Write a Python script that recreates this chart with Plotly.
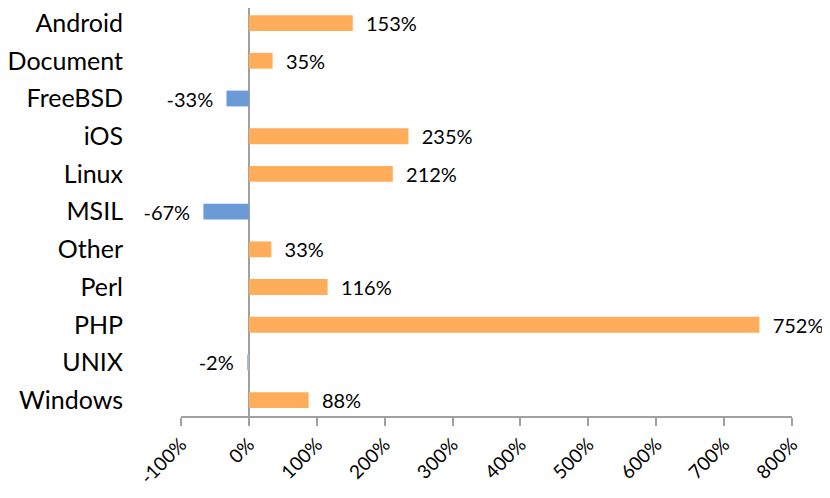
import plotly.graph_objects as go

categories = ["Android", "Document", "FreeBSD", "iOS", "Linux", "MSIL",
              "Other", "Perl", "PHP", "UNIX", "Windows"]
growth = [153, 35, -33, 235, 212, -67, 33, 116, 752, -2, 88]
tick_vals = [-100, 0, 100, 200, 300, 400, 500, 600, 700, 800]
tick_text = [f"{v}%" for v in tick_vals]

colors = ["#FFAD5B" if v > 0 else ("#A9B8CC" if v > -5 else "#6A9BD6") for v in growth]
labels = [f"  {v}%" if v > 0 else f"{v}%  " for v in growth]

fig = go.Figure(go.Bar(
    x=growth, y=categories, orientation="h",
    marker=dict(color=colors, line=dict(width=0)),
    width=0.42,
    text=labels, textposition="outside", cliponaxis=False, constraintext="none",
    textfont=dict(size=20, color="black"),
))

fig.update_yaxes(autorange=False, range=[10.42, -0.4], showline=False, showgrid=False,
                 ticks="", tickfont=dict(size=25, color="black"), ticklabelstandoff=57,
                 automargin=False)
fig.update_xaxes(range=[-100, 800], tickvals=tick_vals, ticktext=tick_text, tickangle=-45,
                 showgrid=False, showline=True, linecolor="#A0A0A0", linewidth=2,
                 ticks="outside", ticklen=8, tickwidth=2, tickcolor="#A0A0A0",
                 zeroline=True, zerolinecolor="#A0A0A0", zerolinewidth=2,
                 tickfont=dict(size=19, color="black"), automargin=False)
fig.update_layout(width=814, height=482, margin=dict(l=173, r=30, t=0, b=74),
                  plot_bgcolor="white", paper_bgcolor="white", showlegend=False,
                  font=dict(family="Lato, Open Sans, sans-serif"))
fig.write_html("out.html")
